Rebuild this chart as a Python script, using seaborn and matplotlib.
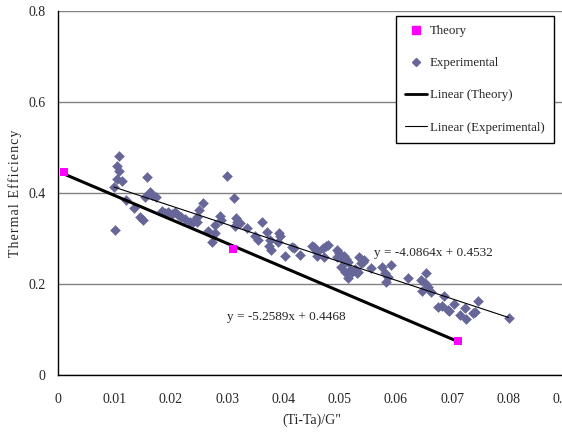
import numpy as np
import pandas as pd
import matplotlib
matplotlib.use('Agg')
import matplotlib.pyplot as plt
import seaborn as sns
from matplotlib.lines import Line2D

# theory points
theory_x = [0.001, 0.031, 0.071]
theory_y = [0.4455, 0.2775, 0.075]

# experimental points
exp_x = [0.0099, 0.0101, 0.0105, 0.0107, 0.0107, 0.0105, 0.0113, 0.0121, 0.0134, 0.0146,
         0.0151, 0.0157, 0.0154, 0.0163, 0.0167, 0.0173, 0.0184, 0.0189, 0.0195, 0.0202,
         0.0207, 0.0212, 0.0218, 0.0225, 0.0234, 0.0240, 0.0246, 0.0246, 0.0250, 0.0257,
         0.0266, 0.0273, 0.0278, 0.0278, 0.0287, 0.0289, 0.0299, 0.0312, 0.0315, 0.0318,
         0.0322, 0.0314, 0.0336, 0.0350, 0.0355, 0.0362, 0.0370, 0.0376, 0.0374, 0.0378,
         0.0392, 0.0394, 0.0391, 0.0402, 0.0415, 0.0418, 0.0429, 0.0450, 0.0454, 0.0457,
         0.0459, 0.0460, 0.0470, 0.0473, 0.0475, 0.0479, 0.0496, 0.0499, 0.0496, 0.0503,
         0.0508, 0.0512, 0.0509, 0.0515, 0.0503, 0.0509, 0.0518, 0.0514, 0.0521, 0.0527,
         0.0530, 0.0533, 0.0535, 0.0537, 0.0541, 0.0544, 0.0555, 0.0575, 0.0580, 0.0582,
         0.0585, 0.0592, 0.0622, 0.0644, 0.0646, 0.0652, 0.0654, 0.0657, 0.0663, 0.0675,
         0.0682, 0.0686, 0.0692, 0.0695, 0.0704, 0.0713, 0.0722, 0.0725, 0.0736, 0.0740,
         0.0746, 0.0800]
exp_y = [0.412, 0.319, 0.459, 0.482, 0.447, 0.430, 0.427, 0.385, 0.366, 0.346,
         0.341, 0.434, 0.390, 0.402, 0.396, 0.391, 0.360, 0.355, 0.359, 0.354,
         0.359, 0.352, 0.347, 0.342, 0.335, 0.335, 0.347, 0.337, 0.363, 0.377,
         0.317, 0.293, 0.330, 0.311, 0.349, 0.341, 0.436, 0.388, 0.344, 0.337,
         0.333, 0.328, 0.322, 0.305, 0.297, 0.335, 0.313, 0.297, 0.284, 0.275,
         0.311, 0.305, 0.291, 0.262, 0.282, 0.278, 0.264, 0.284, 0.281, 0.276,
         0.271, 0.262, 0.278, 0.260, 0.284, 0.286, 0.275, 0.267, 0.260, 0.260,
         0.262, 0.254, 0.249, 0.249, 0.238, 0.227, 0.231, 0.212, 0.227, 0.232,
         0.225, 0.227, 0.260, 0.245, 0.249, 0.253, 0.236, 0.237, 0.224, 0.205,
         0.216, 0.242, 0.212, 0.209, 0.185, 0.201, 0.224, 0.194, 0.183, 0.149,
         0.152, 0.174, 0.143, 0.141, 0.156, 0.132, 0.147, 0.122, 0.137, 0.139,
         0.163, 0.125]

# trend line coefficients (slope, intercept)
theory_fit = (-5.2589, 0.4468)
exp_fit = (-4.0864, 0.4532)

x_ticks = [0, 0.01, 0.02, 0.03, 0.04, 0.05, 0.06, 0.07, 0.08, 0.09]
y_ticks = [0, 0.2, 0.4, 0.6, 0.8]

sns.set_style('white')
plt.rcParams['font.family'] = ['Liberation Serif', 'DejaVu Serif']

fig = plt.figure(figsize=(5.62, 4.34), dpi=100)
ax = fig.add_axes([0.1037, 0.136, 0.9013, 0.8393])

theory = pd.DataFrame({'x': theory_x, 'y': theory_y})
exp = pd.DataFrame({'x': exp_x, 'y': exp_y})

# trend lines over the data range
tx = np.array([min(theory_x), max(theory_x)])
ex = np.array([min(exp_x), max(exp_x)])
sns.lineplot(x=tx, y=theory_fit[0] * tx + theory_fit[1], ax=ax, color='black', lw=2.2, zorder=3)
sns.lineplot(x=ex, y=exp_fit[0] * ex + exp_fit[1], ax=ax, color='black', lw=0.8, zorder=3)

sns.scatterplot(data=exp, x='x', y='y', ax=ax, marker='D', s=26, color='#666699',
                edgecolor='#666699', linewidth=0.3, zorder=2)
sns.scatterplot(data=theory, x='x', y='y', ax=ax, marker='s', s=38, color='#FF00FF',
                edgecolor='#FF00FF', linewidth=0, zorder=4)

ax.set_xlim(0, 0.09)
ax.set_ylim(0, 0.8)
ax.set_xticks(x_ticks)
ax.set_xticklabels([f'{v:g}' for v in x_ticks])
ax.set_yticks(y_ticks)
ax.set_yticklabels([f'{v:g}' for v in y_ticks])
ax.tick_params(axis='both', labelsize=10, direction='out', length=4, width=1, color='black')
ax.tick_params(axis='x', pad=9)
ax.tick_params(axis='y', pad=5)
ax.yaxis.grid(True, color='#808080', lw=1)
ax.xaxis.grid(False)
ax.set_axisbelow(True)
for s in ['top', 'right']:
    ax.spines[s].set_visible(False)
for s in ['left', 'bottom']:
    ax.spines[s].set_color('black')
    ax.spines[s].set_linewidth(1)

ax.set_xlabel('(Ti-Ta)/G"', fontsize=10)
ax.set_ylabel('\u200a'.join('Thermal Efficiency'), fontsize=10)
ax.xaxis.set_label_coords(0.5, -0.107)
ax.yaxis.set_label_coords(-0.0717, 0.5)

ax.text(0.0666, 0.2675, 'y = -4.0864x + 0.4532', fontsize=9.5, ha='center', va='center')
ax.text(0.0406, 0.128, 'y = -5.2589x + 0.4468', fontsize=9.5, ha='center', va='center')

handles = [
    Line2D([], [], marker='s', color='#FF00FF', ls='none', markersize=5.5),
    Line2D([], [], marker='D', color='#666699', ls='none', markersize=4),
    Line2D([], [], color='black', lw=2),
    Line2D([], [], color='black', lw=0.8),
]
labels = ['Theory', 'Experimental', 'Linear (Theory)', 'Linear (Experimental)']
leg = fig.legend(handles, labels, loc='upper left', bbox_to_anchor=(0.704, 0.964),
                 frameon=True, fancybox=False, edgecolor='black', framealpha=1,
                 fontsize=9.3, labelspacing=1.55, handlelength=1.7, handletextpad=0.2,
                 borderpad=0.75, borderaxespad=0)
leg.get_frame().set_linewidth(1)

fig.savefig('out.png', dpi=100)
